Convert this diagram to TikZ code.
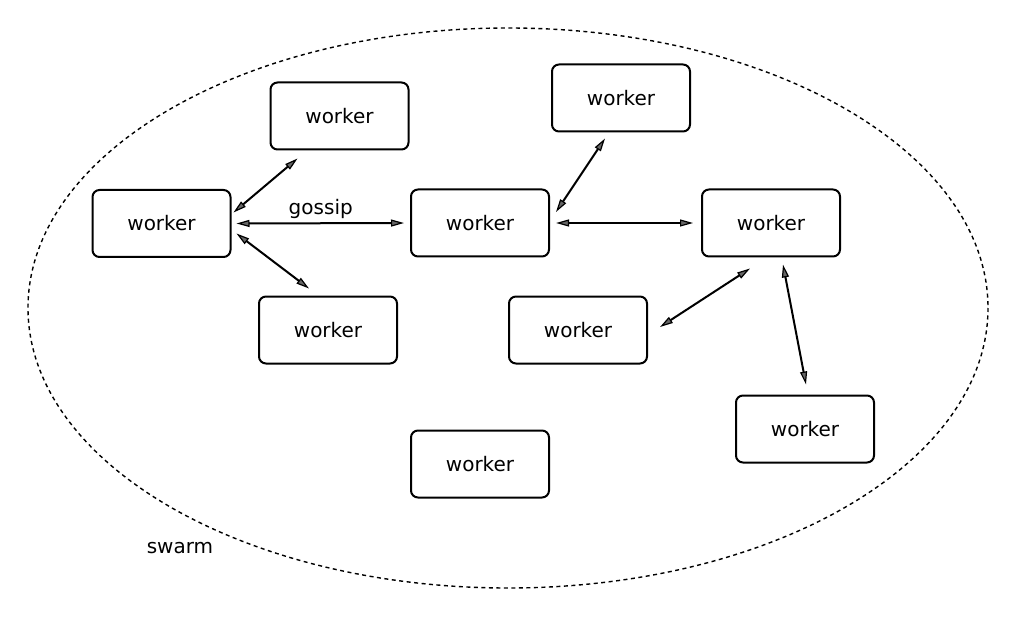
\documentclass[tikz,border=0pt]{standalone}
\usepackage{fontspec}
\setmainfont{DejaVu Sans}
\usetikzlibrary{arrows.meta}

\tikzset{
    worker/.style={draw, line width=2pt, rounded corners=7pt,
        minimum width=138pt, minimum height=67pt, font=\fontsize{20}{24}\selectfont},
    gossipline/.style={line width=2pt,
        {Triangle[length=13pt, width=7pt, fill=black!60, line width=1.2pt]}-{Triangle[length=13pt, width=7pt, fill=black!60, line width=1.2pt]}},
}

\begin{document}
\begin{tikzpicture}[x=1pt, y=-1pt]
        \useasboundingbox (0, 0) rectangle (1016, 617);

        % swarm
        \draw[dash pattern=on 4pt off 3.5pt, line width=1.4pt] (508, 308) ellipse (480 and 280);
        \node[font=\fontsize{20}{24}\selectfont] (swarm) at (180, 548) {swarm};

        % workers
        \node[worker] (w1) at (161.5, 223.5) {worker};
        \node[worker] (w2) at (339.5, 116) {worker};
        \node[worker] (w3) at (328, 330) {worker};
        \node[worker] (w4) at (480, 223) {worker};
        \node[worker] (w5) at (621, 98) {worker};
        \node[worker] (w6) at (771, 223) {worker};
        \node[worker] (w7) at (578, 330) {worker};
        \node[worker] (w8) at (805, 429) {worker};
        \node[worker] (w9) at (480, 464) {worker};

        % gossip
        \draw[gossipline] ([shift={(2, -11)}]w1.east) -- ([shift={(28, 8)}]w2.south west);
        \draw[gossipline, shorten <=5pt, shorten >=6pt] (w1.east) -- (w4.west)
            node[midway, above, font=\fontsize{20}{24}\selectfont] (gossip) {gossip};
        \draw[gossipline] ([shift={(5, 10)}]w1.east) -- ([shift={(51, -7)}]w3.north west);
        \draw[gossipline] ([shift={(6, -11)}]w4.east) -- ([shift={(54, 6)}]w5.south west);
        \draw[gossipline, shorten <=6pt, shorten >=8pt] (w4.east) -- (w6.west);
        \draw[gossipline] ([shift={(-21, 11)}]w6.south) -- ([shift={(12, -3)}]w7.east);
        \draw[gossipline] ([shift={(12, 7)}]w6.south) -- ([shift={(1, -10)}]w8.north);

    \end{tikzpicture}
\end{document}
